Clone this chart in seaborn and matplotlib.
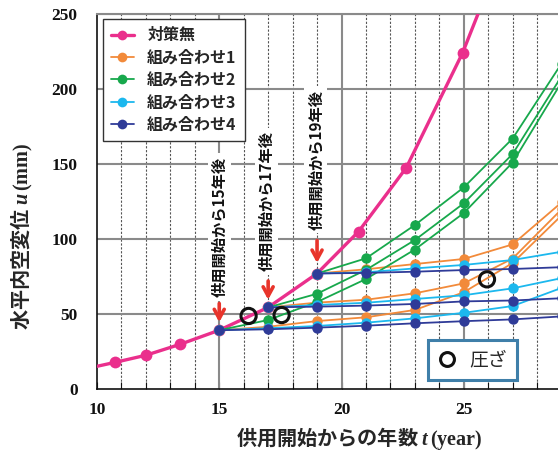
import numpy as np
import pandas as pd
import matplotlib
matplotlib.use("Agg")
import matplotlib.pyplot as plt
import seaborn as sns
from matplotlib.lines import Line2D
from matplotlib.ticker import MultipleLocator

# --- data ---------------------------------------------------------------
# no countermeasure
base_t = [9.4, 10.75, 12.0, 13.4, 15.0, 17.0, 19.0, 20.7, 22.65, 24.95, 26.8]
base_u = [13.0, 17.8, 22.5, 29.8, 39.2, 54.4, 77.0, 105.0, 147.5, 224.0, 300.0]

# countermeasures applied after 15, 17 and 19 years of service
t15 = [15, 17, 19, 21, 23, 25, 27, 29]
t17 = [17, 19, 21, 23, 25, 27, 29]
t19 = [19, 21, 23, 25, 27, 29]

combo1_15 = [39.2, 41.5, 45.3, 47.8, 52.7, 64.5, 84.0, 115.7]
combo1_17 = [54.4, 57.6, 59.5, 63.8, 70.4, 87.0, 119.8]
combo1_19 = [77.0, 79.8, 83.3, 86.7, 96.4, 124.4]

combo2_15 = [39.2, 46.0, 58.0, 73.3, 93.0, 117.3, 151.0, 204.5]
combo2_17 = [54.4, 63.5, 79.4, 99.3, 123.8, 156.7, 208.5]
combo2_19 = [77.0, 87.1, 109.3, 134.4, 167.0, 217.0]

combo3_15 = [39.2, 40.5, 42.0, 44.2, 47.1, 50.8, 55.3, 67.4]
combo3_17 = [54.4, 56.0, 57.5, 60.0, 62.5, 67.1, 73.9]
combo3_19 = [77.0, 77.8, 80.4, 82.7, 86.0, 91.5]

combo4_15 = [39.2, 39.8, 40.9, 42.2, 43.8, 45.2, 46.4, 48.4]
combo4_17 = [54.4, 54.9, 55.6, 56.7, 58.4, 59.0, 60.5]
combo4_19 = [77.0, 77.4, 78.2, 79.3, 80.0, 81.2]

# crushing observed
crush_t = [16.2, 17.55, 25.95]
crush_u = [48.7, 49.3, 73.1]

series_names = ["対策無", "組み合わせ1", "組み合わせ2", "組み合わせ3", "組み合わせ4"]
series_colors = ["#ea2f8c", "#f28a3a", "#17a84c", "#1cb8ee", "#2f3b98"]

start_labels = ["供用開始から15年後", "供用開始から17年後", "供用開始から19年後"]
arrow_t = [15, 17, 19]
arrow_top = [57.0, 72.0, 99.0]
arrow_tip = [44.5, 59.5, 84.0]

x_ticks = [10, 15, 20, 25]
y_ticks = [0, 50, 100, 150, 200, 250]

# --- style --------------------------------------------------------------
sns.set_theme(style="white")
plt.rcParams["font.family"] = ["Noto Sans CJK JP", "DejaVu Sans"]
plt.rcParams["mathtext.fontset"] = "custom"
plt.rcParams["mathtext.rm"] = "Liberation Serif:bold"
plt.rcParams["mathtext.it"] = "Liberation Serif:italic:bold"

fig = plt.figure(figsize=(5.58, 4.51), dpi=100)
ax = fig.add_axes([97 / 558, 1 - 389 / 451, 1 - 97 / 558, 375 / 451])

ax.set_xlim(10, 10 + 461 / 24.45)
ax.set_ylim(0, 250)

# grid: solid every 5 years / 50 mm, dashed every year
ax.xaxis.set_minor_locator(MultipleLocator(1))
ax.set_xticks(x_ticks)
ax.set_yticks(y_ticks)
ax.grid(False)
for yv in y_ticks[1:]:
    ax.axhline(yv, color="#8a8a8a", lw=1.5, zorder=0.6)
for xv in range(11, 29):
    if xv % 5 == 0:
        ax.axvline(xv, color="#8a8a8a", lw=1.5, zorder=0.6)
    else:
        ax.axvline(xv, color="#555555", lw=0.8, ls=(0, (2.0, 1.5)), zorder=0.5)

# --- lines ----------------------------------------------------------------
sns.lineplot(x=base_t, y=base_u, ax=ax, color=series_colors[0], lw=2.4,
             marker="o", markersize=8.5, markeredgewidth=0, legend=False,
             zorder=3)

combos = [
    (series_colors[1], [(t15, combo1_15), (t17, combo1_17), (t19, combo1_19)]),
    (series_colors[2], [(t15, combo2_15), (t17, combo2_17), (t19, combo2_19)]),
    (series_colors[3], [(t15, combo3_15), (t17, combo3_17), (t19, combo3_19)]),
    (series_colors[4], [(t15, combo4_15), (t17, combo4_17), (t19, combo4_19)]),
]
for i, (color, runs) in enumerate(combos):
    for ts, us in runs:
        sns.lineplot(x=ts, y=us, ax=ax, color=color, lw=1.3, marker="o",
                     markersize=7.5, markeredgewidth=0, legend=False,
                     zorder=4 + i)

# crushing markers
sns.scatterplot(x=crush_t, y=crush_u, ax=ax, marker="o", s=120,
                facecolor="none", edgecolor="#111111", linewidth=2.2,
                legend=False, zorder=10)

# --- annotations ----------------------------------------------------------
for xt, y0, y1 in zip(arrow_t, arrow_top, arrow_tip):
    ax.annotate("", xy=(xt, y1), xytext=(xt, y0),
                arrowprops=dict(arrowstyle="->,head_length=0.55,head_width=0.3",
                                color="#e8342b", lw=2.6, shrinkA=0, shrinkB=0),
                zorder=11)

label_pos = [(15.0, 108.0), (16.93, 125.3), (18.95, 152.7)]
for txt, (xt, yt) in zip(start_labels, label_pos):
    ax.text(xt, yt, txt, rotation=90, ha="center", va="center",
            fontsize=11, fontweight="bold", color="#111111",
            bbox=dict(facecolor="white", edgecolor="none", pad=2.5),
            zorder=9)

# --- legends --------------------------------------------------------------
handles = []
for k, (name, color) in enumerate(zip(series_names, series_colors)):
    handles.append(Line2D([], [], color=color, lw=2.4 if k == 0 else 1.3,
                          marker="o", markersize=7, markeredgewidth=0,
                          label=name))
leg = ax.legend(handles=handles, loc="upper left",
                bbox_to_anchor=(0.012, 0.986), borderaxespad=0,
                frameon=True, fancybox=False, framealpha=1,
                edgecolor="#333333", handlelength=1.5, handletextpad=0.8,
                labelspacing=0.4, borderpad=0.5,
                prop=dict(family=["Noto Sans CJK JP"], weight="bold", size=11.5))
leg.get_frame().set_linewidth(1.0)
leg.set_zorder(12)
ax.add_artist(leg)

crush_handle = Line2D([], [], ls="none", marker="o", markersize=10,
                      markerfacecolor="none", markeredgecolor="#111111",
                      markeredgewidth=2.2, label="圧ざ")
leg2 = ax.legend(handles=[crush_handle], loc="lower left",
                 bbox_to_anchor=(0.719, 0.024), borderaxespad=0,
                 frameon=True, fancybox=False, framealpha=1,
                 edgecolor="#3f7fa9", handlelength=1.0, handletextpad=0.7,
                 borderpad=0.5,
                 prop=dict(family=["Noto Sans CJK JP"], size=13.5))
leg2.get_frame().set_linewidth(2.2)
leg2.set_zorder(12)

# --- axes cosmetics ---------------------------------------------------------
for side in ["left", "bottom"]:
    ax.spines[side].set_color("#111111")
    ax.spines[side].set_linewidth(1.2)
ax.spines["top"].set_color("#8a8a8a")
ax.spines["top"].set_linewidth(1.5)
ax.spines["right"].set_visible(False)

ax.tick_params(axis="x", which="both", direction="in", bottom=True, top=False,
               colors="#111111", pad=9)
ax.tick_params(axis="x", which="major", length=5, width=0.8)
ax.tick_params(axis="x", which="minor", length=5, width=0.8)
ax.tick_params(axis="y", which="both", length=0, pad=14, colors="#111111")
for lab in ax.get_xticklabels() + ax.get_yticklabels():
    lab.set_fontfamily("Liberation Serif")
    lab.set_fontweight("bold")
    lab.set_fontsize(12.5)

ax.set_xlabel("")
ax.set_ylabel("")
fig.text(359 / 558, 1 - 438 / 451, "供用開始からの年数 $\\mathit{t}\\,\\mathrm{(year)}$",
         ha="center", va="center", fontsize=14.5, fontweight="bold")
fig.text(22 / 558, 1 - 236 / 451, "水平内空変位 $\\mathit{u}\\,\\mathrm{(mm)}$",
         ha="center", va="center", rotation=90, fontsize=14.5, fontweight="bold")

fig.savefig("out.png", dpi=100, facecolor="white")
